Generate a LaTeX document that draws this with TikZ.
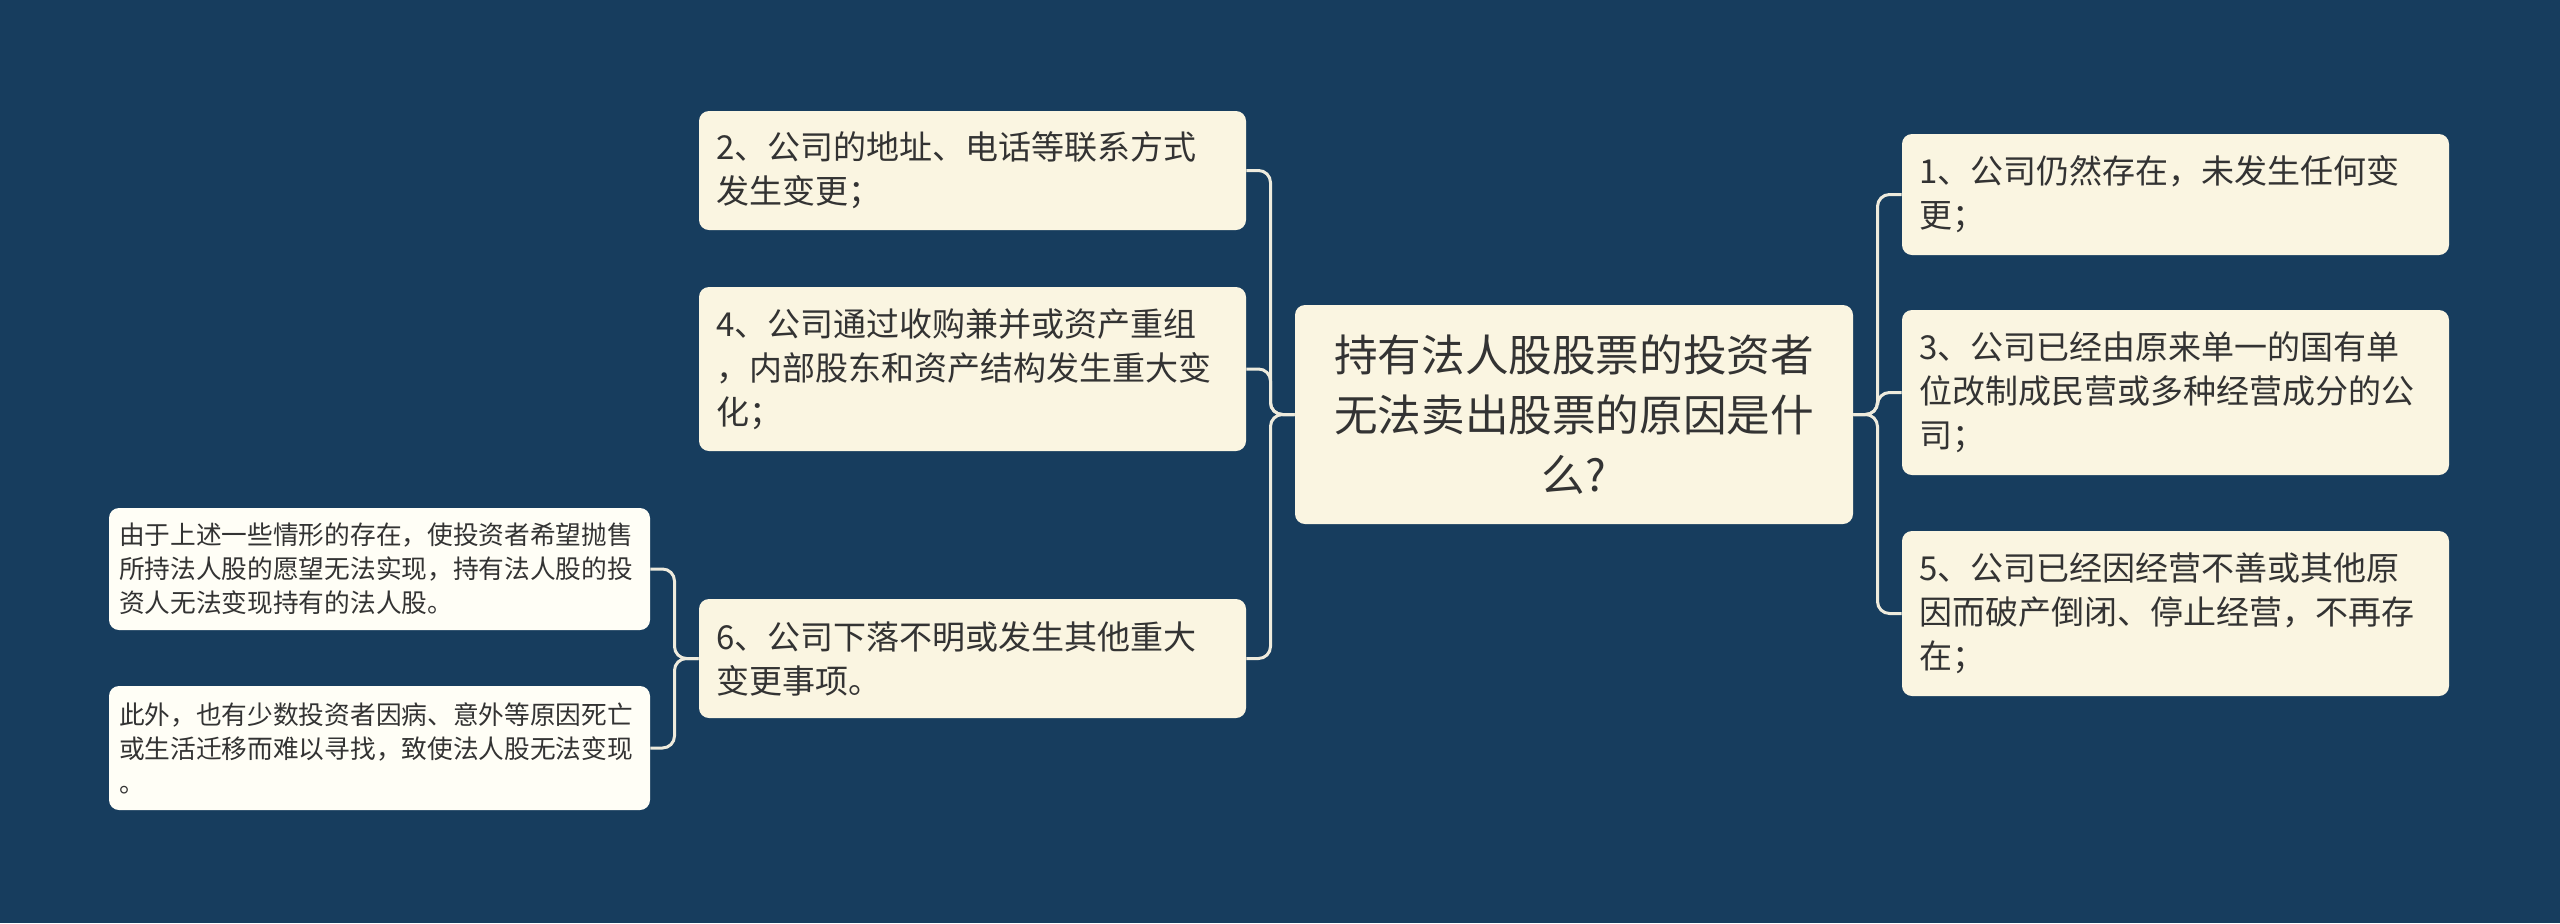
\documentclass[tikz,border=0pt]{standalone}
\usepackage{fontspec}
\setmainfont{Noto Sans CJK SC}
\usetikzlibrary{calc}
\definecolor{bgc}{HTML}{173D5E}
\definecolor{cream}{HTML}{FAF5E1}
\definecolor{leafc}{HTML}{FFFEF6}
\definecolor{linec}{HTML}{EEEBDD}
\definecolor{txt}{HTML}{333333}
\begin{document}
\begin{tikzpicture}[x=0.5pt,y=-0.5pt,
  mmroot/.style={fill=cream, rounded corners=5pt, inner sep=0pt, align=center,
    minimum width=279pt, minimum height=109.5pt, text width=260pt, text=txt,
    font=\fontsize{21.8pt}{30pt}\selectfont},
  mmmain/.style={fill=cream, rounded corners=5pt, inner xsep=8.5pt, inner ysep=0pt, align=left,
    minimum width=273.5pt, text width=256.5pt, text=txt,
    font=\fontsize{16.5pt}{22pt}\selectfont},
  mmleaf/.style={fill=leafc, rounded corners=5pt, inner xsep=5pt, inner ysep=0pt, align=left,
    minimum width=270.5pt, text width=260.5pt, text=txt,
    font=\fontsize{12.85pt}{17pt}\selectfont},
  mmconn/.style={draw=linec, line width=1.5pt, rounded corners=6pt}]
\fill[bgc] (0,0) rectangle (2560,923);
\node[mmroot] (c) at (1574,414.5) {持有法人股股票的投资者\\无法卖出股票的原因是什\\么?};
\node[mmmain, minimum height=59.5pt] (b2) at (972.5,170.5) {2、公司的地址、电话等联系方式\\发生变更；};
\node[mmmain, minimum height=82pt] (b4) at (972.5,369) {4、公司通过收购兼并或资产重组\\，内部股东和资产结构发生重大变\\化；};
\node[mmmain, minimum height=59.5pt] (b6) at (972.5,658.5) {6、公司下落不明或发生其他重大\\变更事项。};
\node[mmleaf, minimum height=61pt] (l1) at (379.5,569) {由于上述一些情形的存在，使投资者希望抛售\\所持法人股的愿望无法实现，持有法人股的投\\资人无法变现持有的法人股。};
\node[mmleaf, minimum height=62pt] (l2) at (379.5,748) {此外，也有少数投资者因病、意外等原因死亡\\或生活迁移而难以寻找，致使法人股无法变现\\。};
\node[mmmain, minimum height=60.5pt] (b1) at (2175.5,194.5) {1、公司仍然存在，未发生任何变\\更；};
\node[mmmain, minimum height=82.5pt] (b3) at (2175.5,392.5) {3、公司已经由原来单一的国有单\\位改制成民营或多种经营成分的公\\司；};
\node[mmmain, minimum height=82.5pt] (b5) at (2175.5,613.5) {5、公司已经因经营不善或其他原\\因而破产倒闭、停止经营，不再存\\在；};
\coordinate (sl) at (1270.5,0);
\coordinate (sr) at (1877.5,0);
\coordinate (s6) at (674.5,0);
\foreach \b in {b2,b4,b6} \draw[mmconn] (c.west) -- (c.west -| sl) |- (\b.east);
\foreach \b in {b1,b3,b5} \draw[mmconn] (c.east) -- (c.east -| sr) |- (\b.west);
\foreach \b in {l1,l2} \draw[mmconn] (b6.west) -- (b6.west -| s6) |- (\b.east);
\end{tikzpicture}
\end{document}
